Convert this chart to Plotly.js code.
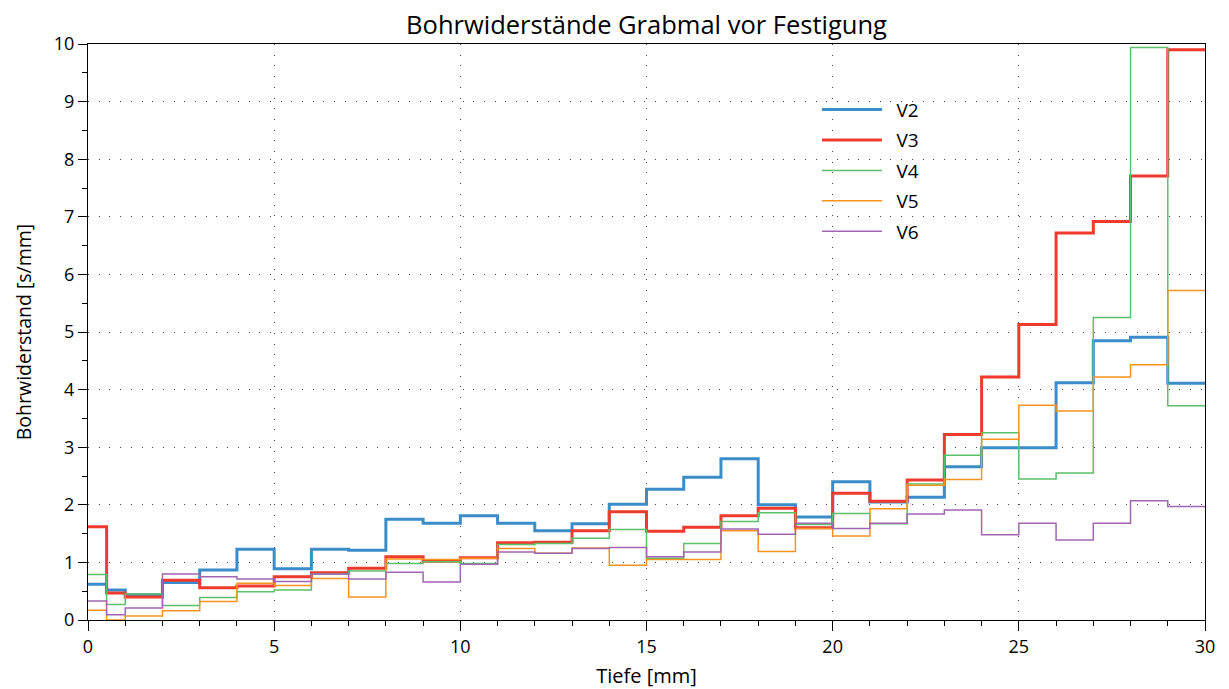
<!DOCTYPE html>
<html>
<head>
<meta charset="utf-8">
<script src="https://cdn.plot.ly/plotly-3.0.1.min.js"></script>
<style>html,body{margin:0;padding:0;background:#fff;}#chart{width:1229px;height:689px;}</style>
</head>
<body>
<div id="chart"></div>
<script>
// Depth edges [mm]: each value holds from its edge to the next
const depth = [0, 0.5, 1, 2, 3, 4, 5, 6, 7, 8, 9, 10, 11, 12, 13, 14, 15, 16, 17, 18, 19, 20, 21, 22, 23, 24, 25, 26, 27, 28, 29, 30];

const seriesNames = ["V2", "V3", "V4", "V5", "V6"];

const V2 = [0.62, 0.52, 0.44, 0.65, 0.87, 1.23, 0.89, 1.23, 1.21, 1.75, 1.68, 1.81, 1.68, 1.55, 1.67, 2.01, 2.27, 2.48, 2.80, 2.00, 1.79, 2.40, 2.05, 2.13, 2.66, 2.99, 2.99, 4.12, 4.85, 4.91, 4.11];
const V3 = [1.62, 0.47, 0.40, 0.69, 0.56, 0.59, 0.75, 0.82, 0.90, 1.10, 1.02, 1.08, 1.34, 1.35, 1.55, 1.88, 1.54, 1.61, 1.81, 1.94, 1.60, 2.20, 2.06, 2.43, 3.22, 4.22, 5.13, 6.72, 6.92, 7.71, 9.90];
const V4 = [0.79, 0.27, 0.45, 0.25, 0.39, 0.49, 0.52, 0.80, 0.85, 0.98, 1.01, 0.98, 1.31, 1.33, 1.42, 1.57, 1.07, 1.33, 1.71, 1.86, 1.66, 1.85, 1.67, 2.36, 2.86, 3.25, 2.45, 2.55, 5.25, 9.94, 3.72];
const V5 = [0.17, 0.00, 0.07, 0.16, 0.32, 0.64, 0.60, 0.72, 0.40, 1.06, 1.05, 1.07, 1.24, 1.16, 1.25, 0.95, 1.05, 1.05, 1.55, 1.19, 1.59, 1.46, 1.93, 2.34, 2.44, 3.14, 3.73, 3.63, 4.22, 4.43, 5.72];
const V6 = [0.33, 0.09, 0.21, 0.80, 0.75, 0.71, 0.67, 0.80, 0.71, 0.83, 0.66, 0.97, 1.18, 1.16, 1.24, 1.26, 1.10, 1.18, 1.58, 1.49, 1.68, 1.59, 1.68, 1.84, 1.91, 1.48, 1.68, 1.39, 1.68, 2.07, 1.97];

const seriesValues = [V2, V3, V4, V5, V6];
const colors = ["#3a8dc8", "#ee3b2d", "#5cbf6a", "#f7931e", "#a066b0"];
const widths = [3, 3, 1.5, 1.5, 1.5];

const FONT = "Open Sans, Noto Sans, sans-serif";

const traces = seriesValues.map((vals, i) => ({
  type: "scatter",
  mode: "lines",
  name: "\u2002" + seriesNames[i],
  legendgroup: seriesNames[i],
  x: depth,
  y: vals.concat([vals[vals.length - 1]]),
  line: {shape: "hv", color: colors[i], width: widths[i]},
  hoverinfo: "x+y+name"
}));

const layout = {
  width: 1229,
  height: 689,
  paper_bgcolor: "#ffffff",
  plot_bgcolor: "#ffffff",
  margin: {l: 88, r: 24, t: 44, b: 69},
  font: {family: FONT, size: 18, color: "#000"},
  title: {
    text: "Bohrwiderstände Grabmal vor Festigung",
    font: {family: FONT, size: 25.5, color: "#000"},
    xref: "paper", x: 0.5, xanchor: "center",
    yref: "container",
    y: 0.964, yanchor: "middle"
  },
  showlegend: true,
  legend: {
    x: 0.6526, y: 0.9188, xanchor: "left", yanchor: "top",
    bgcolor: "rgba(255,255,255,0)",
    borderwidth: 0,
    font: {family: FONT, size: 19, color: "#000"},
    itemwidth: 60,
    traceorder: "grouped",
    tracegroupgap: 2.7
  },
  xaxis: {
    range: [0, 30],
    dtick: 5, tick0: 0,
    ticks: "outside", ticklen: 10, tickwidth: 1, tickcolor: "#000",
    showline: true, linecolor: "#000", linewidth: 1, mirror: true,
    showgrid: true, gridcolor: "#444", gridwidth: 1, griddash: "1px,9.7px",
    zeroline: false,
    tickfont: {family: FONT, size: 18, color: "#000"},
    minor: {dtick: 1, ticks: "outside", ticklen: 5, tickcolor: "#000", showgrid: false},
    title: {text: "Tiefe [mm]", font: {family: FONT, size: 20, color: "#000"}, standoff: 12}
  },
  yaxis: {
    range: [0, 10],
    dtick: 1, tick0: 0,
    ticks: "outside", ticklen: 9, tickwidth: 1, tickcolor: "#000",
    showline: true, linecolor: "#000", linewidth: 1, mirror: true,
    showgrid: true, gridcolor: "#444", gridwidth: 1, griddash: "1px,9.7px",
    zeroline: false,
    tickfont: {family: FONT, size: 18, color: "#000"},
    minor: {dtick: 0.5, ticks: "outside", ticklen: 5, tickcolor: "#000", showgrid: false},
    title: {text: "Bohrwiderstand [s/mm]", font: {family: FONT, size: 19.5, color: "#000"}, standoff: 16}
  }
};

Plotly.newPlot("chart", traces, layout, {displayModeBar: false, staticPlot: true});
</script>
</body>
</html>
